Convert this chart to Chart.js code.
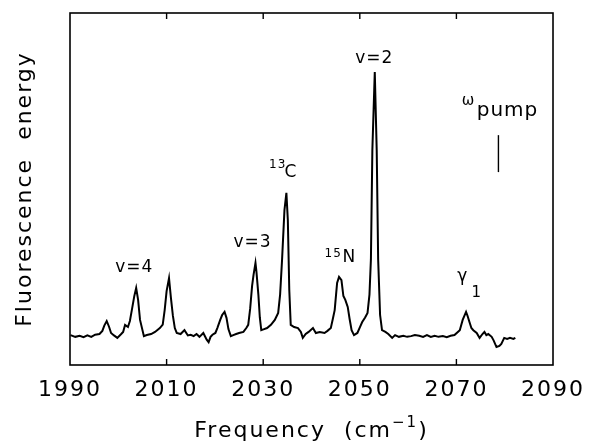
<!DOCTYPE html>
<html>
<head>
<meta charset="utf-8">
<script src="https://cdn.jsdelivr.net/npm/chart.js@4.4.0/dist/chart.umd.min.js"></script>
<style>
  body { margin: 0; background: #fff; }
  #wrap { width: 593px; height: 444px; }
</style>
</head>
<body>
<div id="wrap"><canvas id="chart"></canvas></div>
<script>
// Spectrum trace (x in cm-1, y in arbitrary units 0-100)
const freq = [
  1990.1, 1991.1, 1992.0, 1992.8, 1993.6, 1994.4, 1995.2, 1996.1, 1996.7, 1997.1,
  1997.6, 1998.1, 1998.5, 1999.1, 1999.8, 2000.6, 2001.0, 2001.4, 2002.0, 2002.4,
  2002.8, 2003.3, 2003.7, 2004.1, 2004.5, 2005.3, 2005.9, 2006.8, 2007.6, 2008.6,
  2009.2, 2009.6, 2010.0, 2010.5, 2010.9, 2011.3, 2011.7, 2012.1, 2012.9, 2013.7,
  2014.4, 2015.0, 2015.6, 2016.2, 2016.8, 2017.6, 2018.3, 2018.7, 2019.1, 2019.5,
  2020.1, 2020.5, 2021.1, 2021.5, 2022.0, 2022.4, 2022.8, 2023.3, 2023.8, 2024.4,
  2025.0, 2025.9, 2026.5, 2026.9, 2027.3, 2027.7, 2028.0, 2028.4, 2028.6, 2029.0,
  2029.3, 2029.6, 2030.2, 2030.8, 2031.6, 2032.4, 2033.1, 2033.5, 2033.9, 2034.4,
  2034.8, 2035.1, 2035.4, 2035.7, 2036.4, 2037.2, 2037.8, 2038.2, 2038.8, 2039.4,
  2040.3, 2040.9, 2041.7, 2042.7, 2043.3, 2044.0, 2044.4, 2044.8, 2045.3, 2045.7,
  2046.2, 2046.6, 2047.0, 2047.5, 2047.9, 2048.3, 2048.8, 2049.5, 2050.1, 2050.5,
  2051.1, 2051.6, 2052.0, 2052.3, 2052.6, 2053.1, 2053.5, 2053.8, 2054.2, 2054.6,
  2055.3, 2055.9, 2056.7, 2057.3, 2058.1, 2059.0, 2059.8, 2060.6, 2061.4, 2062.3,
  2063.1, 2063.9, 2064.7, 2065.5, 2066.3, 2067.2, 2068.0, 2068.8, 2069.6, 2070.3,
  2070.7, 2071.3, 2072.0, 2072.3, 2072.7, 2073.1, 2073.5, 2074.2, 2074.8, 2075.4,
  2075.8, 2076.2, 2076.6, 2077.3, 2077.7, 2078.3, 2078.9, 2079.3, 2079.9, 2080.5,
  2081.1, 2081.8, 2082.2
];
const signal = [
  8.5, 8.0, 8.3, 7.9, 8.4, 8.0, 8.6, 8.8, 9.7, 11.2,
  12.5, 10.8, 9.1, 8.4, 7.7, 8.8, 9.4, 11.4, 10.8, 12.5,
  15.6, 19.5, 21.9, 18.5, 12.8, 8.2, 8.5, 8.8, 9.4, 10.5,
  11.5, 15.6, 21.0, 24.7, 19.0, 14.0, 10.5, 9.1, 8.8, 9.9,
  8.4, 8.6, 8.2, 8.8, 8.0, 9.1, 7.2, 6.5, 8.0, 8.6,
  9.1, 10.5, 12.8, 14.2, 15.1, 13.4, 10.2, 8.2, 8.5, 8.8,
  9.1, 9.4, 10.5, 11.4, 16.0, 22.5, 25.6, 29.0, 26.5, 20.0,
  13.5, 9.9, 10.2, 10.5, 11.4, 12.8, 14.8, 20.0, 29.8, 44.0,
  48.9, 41.2, 21.3, 11.4, 10.8, 10.5, 9.4, 7.7, 8.8, 9.4,
  10.5, 9.1, 9.4, 9.1, 9.7, 10.5, 13.0, 15.6, 23.3, 25.0,
  24.1, 19.6, 18.5, 16.5, 13.0, 9.9, 8.5, 9.1, 11.0, 12.2,
  13.5, 14.8, 20.0, 30.0, 61.1, 83.2, 61.1, 30.0, 14.2, 9.9,
  9.4, 8.8, 7.7, 8.5, 8.0, 8.3, 8.0, 8.2, 8.5, 8.3,
  8.0, 8.5, 8.0, 8.3, 8.0, 8.2, 7.9, 8.3, 8.5, 9.4,
  9.9, 12.8, 15.1, 14.0, 12.2, 10.5, 9.9, 9.1, 7.7, 8.8,
  9.4, 8.5, 8.8, 8.0, 7.0, 5.1, 5.4, 6.0, 7.7, 7.4,
  7.7, 7.4, 7.7
];
const tickVals = [1990, 2010, 2030, 2050, 2070, 2090];
const innerTicks = [2010, 2030, 2050, 2070];

// Peak annotations (data coordinates of the text baseline)
const peakLabels = [
  { text: 'v=2', x: 2053.0, y: 85.8, size: 17, align: 'center' },
  { text: '13',  x: 2031.2, y: 56.0, size: 12, align: 'left' },
  { text: 'C',   x: 2034.4, y: 53.4, size: 17, align: 'left' },
  { text: 'v=3', x: 2027.8, y: 33.5, size: 17, align: 'center' },
  { text: '15',  x: 2042.7, y: 30.7, size: 12, align: 'left' },
  { text: 'N',   x: 2046.4, y: 29.3, size: 17, align: 'left' },
  { text: 'v=4', x: 2003.3, y: 26.4, size: 17, align: 'center' },
  { text: 'γ',   x: 2070.2, y: 23.9, size: 17, align: 'left' },
  { text: '1',   x: 2073.1, y: 19.3, size: 15, align: 'left' },
  { text: 'ω',   x: 2071.1, y: 73.9, size: 15, align: 'left' },
  { text: 'pump', x: 2074.2, y: 70.7, size: 20, align: 'left' }
];
const pumpMark = { x: 2078.7, y1: 54.8, y2: 65.3 };

const FONT = "'DejaVu Sans', sans-serif";

const framePlugin = {
  id: 'frame',
  beforeDraw(chart) {
    chart.ctx.letterSpacing = '2px';
  },
  afterDatasetsDraw(chart) {
    const ctx = chart.ctx;
    const a = chart.chartArea;
    const xs = chart.scales.x, ys = chart.scales.y;
    ctx.save();
    ctx.strokeStyle = '#000';
    ctx.fillStyle = '#000';

    // frame
    ctx.lineWidth = 1.6;
    ctx.strokeRect(a.left, a.top, a.right - a.left, a.bottom - a.top);

    // inward ticks top and bottom
    ctx.lineWidth = 1.4;
    innerTicks.forEach(v => {
      const px = xs.getPixelForValue(v);
      ctx.beginPath();
      ctx.moveTo(px, a.bottom); ctx.lineTo(px, a.bottom - 6);
      ctx.moveTo(px, a.top); ctx.lineTo(px, a.top + 6);
      ctx.stroke();
    });

    // pump marker
    ctx.beginPath();
    ctx.moveTo(xs.getPixelForValue(pumpMark.x), ys.getPixelForValue(pumpMark.y1));
    ctx.lineTo(xs.getPixelForValue(pumpMark.x), ys.getPixelForValue(pumpMark.y2));
    ctx.stroke();

    // peak labels
    ctx.letterSpacing = '1px';
    ctx.textBaseline = 'alphabetic';
    peakLabels.forEach(l => {
      ctx.font = l.size + 'px ' + FONT;
      ctx.textAlign = l.align;
      ctx.fillText(l.text, xs.getPixelForValue(l.x), ys.getPixelForValue(l.y));
    });

    // x title with superscript
    ctx.letterSpacing = '2px';
    ctx.textAlign = 'left';
    const big = '22px ' + FONT, small = '15px ' + FONT;
    ctx.font = big;
    const w1 = ctx.measureText('Frequency  (cm').width;
    const w3 = ctx.measureText(')').width;
    ctx.font = small;
    const w2 = ctx.measureText('−1').width;
    let x0 = (a.left + a.right) / 2 - (w1 + w2 + w3) / 2;
    const yb = 437;
    ctx.font = big;
    ctx.fillText('Frequency  (cm', x0, yb);
    ctx.font = small;
    ctx.fillText('−1', x0 + w1, yb - 10);
    ctx.font = big;
    ctx.fillText(')', x0 + w1 + w2, yb);

    // y title
    ctx.translate(25, (a.top + a.bottom) / 2);
    ctx.rotate(-Math.PI / 2);
    ctx.textAlign = 'center';
    ctx.textBaseline = 'middle';
    ctx.fillText('Fluorescence  energy', 0, 0);
    ctx.restore();
  }
};

new Chart(document.getElementById('chart'), {
  type: 'line',
  data: {
    datasets: [{
      data: freq.map((f, i) => ({ x: f, y: signal[i] })),
      borderColor: '#000',
      borderWidth: 2,
      pointRadius: 0,
      tension: 0,
      fill: false
    }]
  },
  options: {
    responsive: true,
    maintainAspectRatio: false,
    animation: false,
    events: [],
    layout: { padding: { left: 70, right: 36, top: 13, bottom: 0 } },
    plugins: { legend: { display: false }, tooltip: { enabled: false } },
    scales: {
      x: {
        type: 'linear',
        min: 1990,
        max: 2090,
        afterBuildTicks: s => { s.ticks = tickVals.map(v => ({ value: v })); },
        afterFit: s => { s.height = 79; },
        grid: { display: false, drawTicks: false },
        border: { display: false },
        ticks: {
          autoSkip: false,
          maxRotation: 0,
          padding: 12,
          color: '#000',
          font: { family: FONT, size: 22 },
          callback: v => String(v)
        }
      },
      y: {
        display: false,
        min: 0,
        max: 100
      }
    }
  },
  plugins: [framePlugin]
});
</script>
</body>
</html>
